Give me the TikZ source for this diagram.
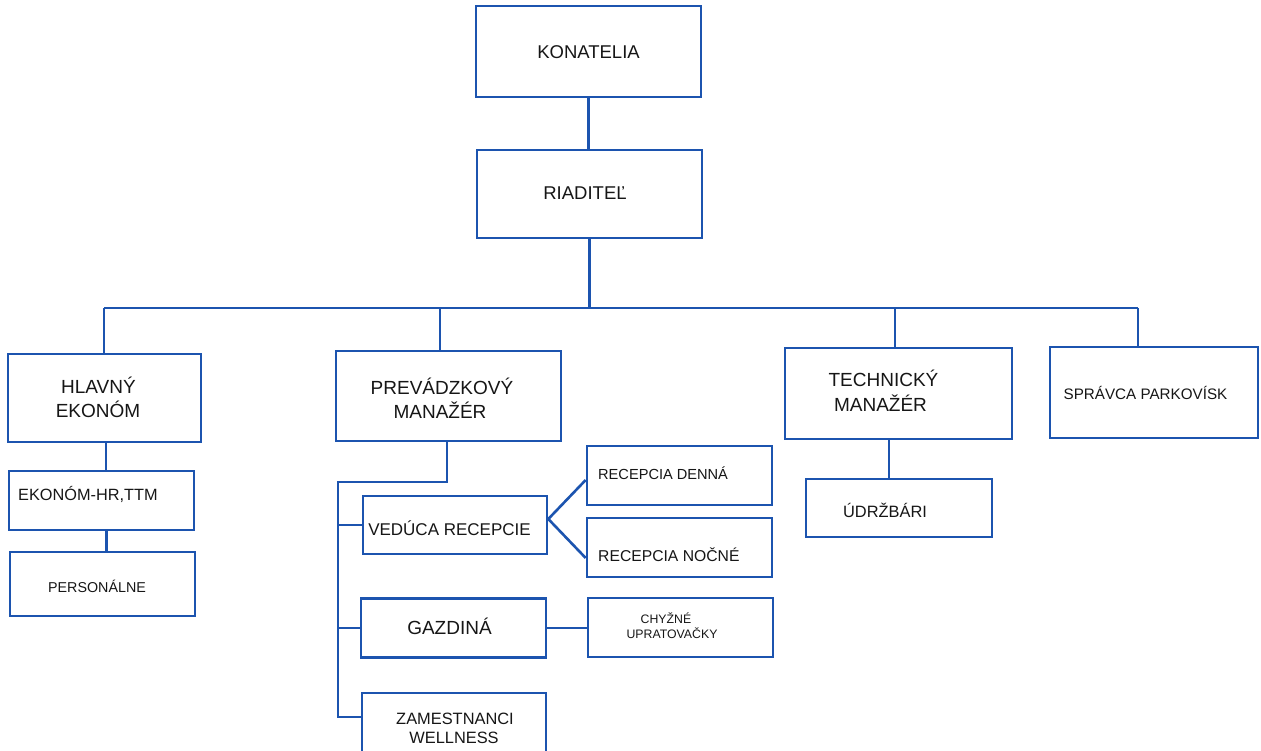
\documentclass[tikz,border=0pt]{standalone}
\usepackage{fontspec}
\setmainfont{Liberation Sans}
\definecolor{lineblue}{RGB}{28,84,175}
\definecolor{inkcol}{RGB}{22,22,22}
\tikzset{
  obox/.style={draw=lineblue, line width=2.6pt, rectangle, inner sep=0pt},
  conn/.style={draw=lineblue, line width=2.6pt, line join=miter},
  lab/.style={inner sep=0pt, text=inkcol, anchor=base},
  labw/.style={inner sep=0pt, text=inkcol, anchor=base west},
}
\newcommand\fs[1]{\fontsize{#1}{#1}\selectfont}
\begin{document}
\begin{tikzpicture}[x=1pt,y=-1pt]
\useasboundingbox (0,0) rectangle (1261,751);
\clip (0,0) rectangle (1261,751);
\fill[white] (0,0) rectangle (1261,751);

% boxes
\node[obox, minimum width=225pt, minimum height=91pt] (kon) at (588.5,51.5) {};
\node[obox, minimum width=225pt, minimum height=88pt] (ria) at (589.5,194) {};
\node[obox, minimum width=193pt, minimum height=88pt] (hla) at (104.5,398) {};
\node[obox, minimum width=185pt, minimum height=59pt] (ekh) at (101.5,500.5) {};
\node[obox, minimum width=185pt, minimum height=64pt] (per) at (102.5,584) {};
\node[obox, minimum width=225pt, minimum height=90pt] (pre) at (448.5,396) {};
\node[obox, minimum width=184pt, minimum height=58pt] (ved) at (455,525) {};
\node[obox, minimum width=185pt, minimum height=59pt] (rden) at (679.5,475.5) {};
\node[obox, minimum width=185pt, minimum height=59pt] (rnoc) at (679.5,547.5) {};
\node[obox, minimum width=185pt, minimum height=59pt] (gaz) at (453.5,628) {};
\node[obox, minimum width=185pt, minimum height=59pt] (chy) at (680.5,627.5) {};
\node[obox, minimum width=184pt, minimum height=60pt] (zam) at (454,723) {};
\node[obox, minimum width=227pt, minimum height=91pt] (tec) at (898.5,393.5) {};
\node[obox, minimum width=186pt, minimum height=58pt] (udr) at (899,508) {};
\node[obox, minimum width=208pt, minimum height=91pt] (spr) at (1154,392.5) {};

% texts
\node[lab] (kon-t) at (588.5,58.6) {\fs{18.5}KONATELIA};
\node[lab] (ria-t) at (585,199.6) {\fs{18.5}RIADITEĽ};
\node[lab] (hla-t1) at (98.5,393.3) {\fs{19}HLAVNÝ};
\node[lab] (hla-t2) at (98,417.5) {\fs{19}EKONÓM};
\node[labw] (ekh-t) at (18,500.9) {\fs{16.3}EKONÓM-HR,TTM};
\node[lab] (per-t) at (97,592.1) {\fs{14.3}PERSONÁLNE};
\node[lab] (pre-t1) at (442,394.8) {\fs{19}PREVÁDZKOVÝ};
\node[lab] (pre-t2) at (440,418.8) {\fs{19}MANAŽÉR};
\node[lab] (ved-t) at (449.5,535.1) {\fs{17}VEDÚCA RECEPCIE};
\node[labw] (rden-t) at (598,479.2) {\fs{14.6}RECEPCIA DENNÁ};
\node[labw] (rnoc-t) at (598,561.5) {\fs{15.7}RECEPCIA NOČNÉ};
\node[lab] (gaz-t) at (449.5,634.8) {\fs{19}GAZDINÁ};
\node[lab] (chy-t1) at (666,623.4) {\fs{12.3}CHYŽNÉ};
\node[lab] (chy-t2) at (672,638.4) {\fs{12.3}UPRATOVAČKY};
\node[lab] (zam-t1) at (455,724) {\fs{16.4}ZAMESTNANCI};
\node[lab] (zam-t2) at (454,743) {\fs{16.4}WELLNESS};
\node[lab] (tec-t1) at (883.5,386.8) {\fs{19}TECHNICKÝ};
\node[lab] (tec-t2) at (880.5,411.8) {\fs{19}MANAŽÉR};
\node[lab] (spr-t) at (1145.5,399.4) {\fs{15.2}SPRÁVCA PARKOVÍSK};
\node[lab] (udr-t) at (885,517.9) {\fs{16.4}ÚDRŽBÁRI};

% bus coordinates
\coordinate (bL) at (104,308);
\coordinate (bP) at (440,308);
\coordinate (bM) at (589,308);
\coordinate (bT) at (895,308);
\coordinate (bR) at (1138,308);
\coordinate (tr) at (338,482);
\coordinate (zb) at (338,717);

% connectors
\draw[conn] (kon.south) -- (kon.south |- ria.north);
\draw[conn] (ria.south) -- (ria.south |- bM);
\draw[conn] (bL) -- (bR);
\draw[conn] (bL) -- (bL |- hla.north);
\draw[conn] (bP) -- (bP |- pre.north);
\draw[conn] (bT) -- (bT |- tec.north);
\draw[conn] (bR) -- (bR |- spr.north);
\draw[conn] ([xshift=1.5pt]hla.south) -- ([xshift=1.5pt]hla.south |- ekh.north);
\draw[conn] ([xshift=5pt]ekh.south) -- ([xshift=5pt]ekh.south |- per.north);
\draw[conn] ([xshift=-1.5pt]pre.south) |- (tr) -- (zb) -- (zb -| zam.west);
\draw[conn] (tr |- ved.west) -- (ved.west);
\draw[conn] (tr |- gaz.west) -- (gaz.west);
\draw[conn] ([yshift=6pt]ved.east) -- ([yshift=-4.5pt]rden.west);
\draw[conn] ([yshift=6pt]ved.east) -- ([yshift=-10.5pt]rnoc.west);
\draw[conn] (gaz.east) -- (gaz.east -| chy.west);
\draw[conn] ([xshift=-9.5pt]tec.south) -- ([xshift=-9.5pt]tec.south |- udr.north);
\end{tikzpicture}
\end{document}
